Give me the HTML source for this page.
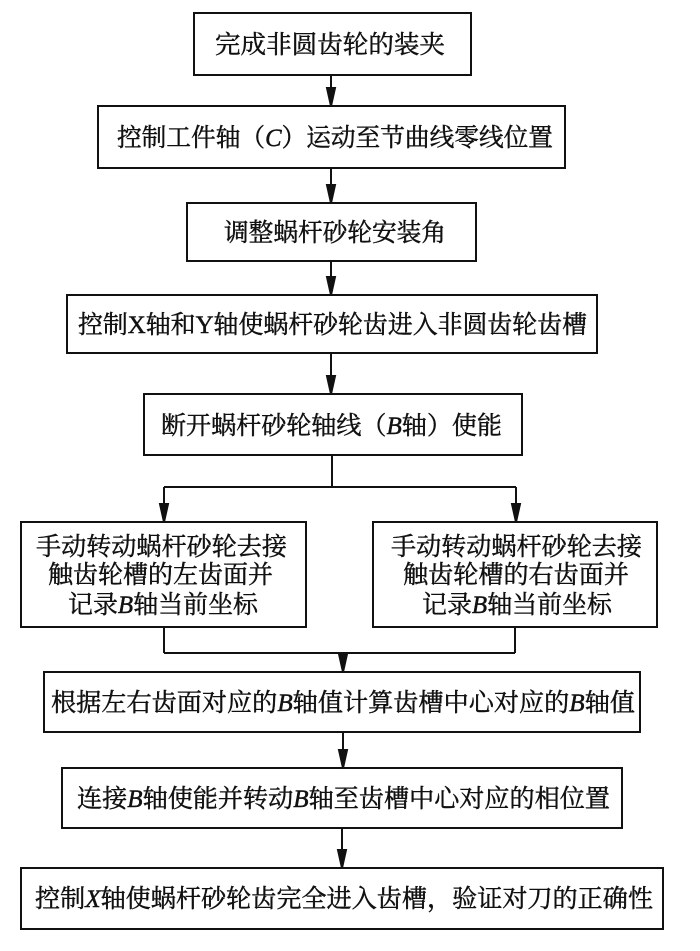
<!DOCTYPE html>
<html><head><meta charset="utf-8"><style>
html,body{margin:0;padding:0;background:#fff;}
svg{display:block;}
text{font-family:"Liberation Serif","Noto Serif CJK SC",serif;font-size:25px;fill:#111;stroke:#111;stroke-width:0.45;}
.i{font-style:italic;}
</style></head><body>
<svg width="700" height="951" viewBox="0 0 700 951" xmlns="http://www.w3.org/2000/svg">
<g fill="none" stroke="#111" stroke-width="2">
<rect x="194" y="13" width="277" height="62"/>
<rect x="98" y="106" width="467" height="62"/>
<rect x="187" y="203" width="289" height="58"/>
<rect x="67" y="295" width="530" height="58"/>
<rect x="144" y="394" width="378" height="61"/>
<rect x="21" y="522" width="285" height="105"/>
<rect x="373" y="522" width="284" height="105"/>
<rect x="44" y="672" width="596" height="60"/>
<rect x="62" y="768" width="560" height="60"/>
<rect x="21" y="868" width="642" height="61"/>
</g>
<g stroke="#111" stroke-width="2" fill="#111">
<line x1="331" y1="75" x2="331" y2="92"/><path d="M327,88 L335,88 L331,106 Z"/>
<line x1="331" y1="168" x2="331" y2="189"/><path d="M327,185 L335,185 L331,203 Z"/>
<line x1="331" y1="261" x2="331" y2="281"/><path d="M327,277 L335,277 L331,295 Z"/>
<line x1="331" y1="353" x2="331" y2="380"/><path d="M327,376 L335,376 L331,394 Z"/>
<line x1="332" y1="455" x2="332" y2="487"/>
<line x1="164" y1="487" x2="516" y2="487"/>
<line x1="164" y1="487" x2="164" y2="508"/><path d="M160,504 L168,504 L164,522 Z"/>
<line x1="516" y1="487" x2="516" y2="508"/><path d="M512,504 L520,504 L516,522 Z"/>
<line x1="164" y1="627" x2="164" y2="653"/><line x1="515" y1="627" x2="515" y2="653"/>
<line x1="164" y1="653" x2="515" y2="653"/>
<line x1="343" y1="653" x2="343" y2="658"/><path d="M339,654 L347,654 L343,672 Z"/>
<line x1="343" y1="732" x2="343" y2="754"/><path d="M339,750 L347,750 L343,768 Z"/>
<line x1="342" y1="828" x2="342" y2="854"/><path d="M338,850 L346,850 L342,868 Z"/>
</g>
<g>
<text x="215" y="53" textLength="230" lengthAdjust="spacingAndGlyphs">完成非圆齿轮的装夹</text>
<text x="117" y="146" textLength="436" lengthAdjust="spacingAndGlyphs">控制工件轴（<tspan class="i">C</tspan>）运动至节曲线零线位置</text>
<text x="224" y="241" textLength="222" lengthAdjust="spacingAndGlyphs">调整蜗杆砂轮安装角</text>
<text x="78" y="333" textLength="509" lengthAdjust="spacingAndGlyphs">控制X轴和Y轴使蜗杆砂轮齿进入非圆齿轮齿槽</text>
<text x="161" y="434" textLength="341" lengthAdjust="spacingAndGlyphs">断开蜗杆砂轮轴线（<tspan class="i">B</tspan>轴）使能</text>
<text x="36" y="555" textLength="251" lengthAdjust="spacingAndGlyphs">手动转动蜗杆砂轮去接</text>
<text x="48" y="583" textLength="225" lengthAdjust="spacingAndGlyphs">触齿轮槽的左齿面并</text>
<text x="68" y="613" textLength="190" lengthAdjust="spacingAndGlyphs">记录<tspan class="i">B</tspan>轴当前坐标</text>
<text x="391" y="555" textLength="251" lengthAdjust="spacingAndGlyphs">手动转动蜗杆砂轮去接</text>
<text x="403" y="583" textLength="226" lengthAdjust="spacingAndGlyphs">触齿轮槽的右齿面并</text>
<text x="422" y="613" textLength="190" lengthAdjust="spacingAndGlyphs">记录<tspan class="i">B</tspan>轴当前坐标</text>
<text x="51" y="711" textLength="584" lengthAdjust="spacingAndGlyphs">根据左右齿面对应的<tspan class="i">B</tspan>轴值计算齿槽中心对应的<tspan class="i">B</tspan>轴值</text>
<text x="77" y="807" textLength="533" lengthAdjust="spacingAndGlyphs">连接<tspan class="i">B</tspan>轴使能并转动<tspan class="i">B</tspan>轴至齿槽中心对应的相位置</text>
<text x="35" y="907" textLength="618" lengthAdjust="spacingAndGlyphs">控制<tspan class="i">X</tspan>轴使蜗杆砂轮齿完全进入齿槽，验证对刀的正确性</text>
</g>
</svg>
</body></html>
